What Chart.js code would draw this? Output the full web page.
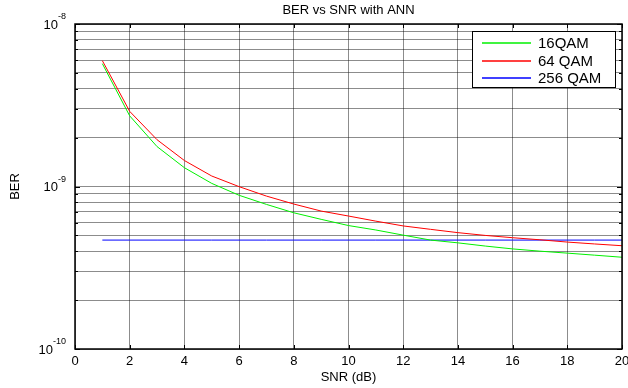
<!DOCTYPE html>
<html>
<head>
<meta charset="utf-8">
<script src="https://cdn.jsdelivr.net/npm/chart.js@4/dist/chart.umd.min.js"></script>
<style>
html,body{margin:0;padding:0;background:#fff;}
#wrap{width:628px;height:388px;position:relative;}
</style>
</head>
<body>
<div id="wrap"><canvas id="c" width="628" height="388"></canvas></div>
<script>
const snr = [1,2,3,4,5,6,7,8,9,10,11,12,13,14,15,16,17,18,19,20];
const ber16QAM = [5.7e-9,2.72e-9,1.76e-9,1.305e-9,1.045e-9,8.83e-10,7.76e-10,6.89e-10,6.28e-10,5.75e-10,5.4e-10,5.02e-10,4.68e-10,4.5e-10,4.3e-10,4.13e-10,4.0e-10,3.89e-10,3.78e-10,3.67e-10];
const ber64QAM = [5.95e-9,2.9e-9,1.94e-9,1.445e-9,1.16e-9,9.98e-10,8.73e-10,7.8e-10,7.06e-10,6.58e-10,6.12e-10,5.72e-10,5.45e-10,5.2e-10,5.0e-10,4.84e-10,4.7e-10,4.55e-10,4.43e-10,4.32e-10];
const ber256QAM = [4.68e-10,4.68e-10,4.68e-10,4.68e-10,4.68e-10,4.68e-10,4.68e-10,4.68e-10,4.68e-10,4.68e-10,4.68e-10,4.68e-10,4.68e-10,4.68e-10,4.68e-10,4.68e-10,4.68e-10,4.68e-10,4.68e-10,4.68e-10];
const seriesNames = ['16QAM','64 QAM','256 QAM'];
const xTickLabels = [0,2,4,6,8,10,12,14,16,18,20];
const yDecadeExponents = [-10,-9,-8];
const titleText = 'BER vs SNR with ANN';
const xTitle = 'SNR (dB)';
const yTitle = 'BER';

const FONT = "'Liberation Sans', Arial, sans-serif";
const seriesColors = ['rgb(0,240,0)','rgb(255,0,0)','rgb(0,0,255)'];

function pts(ys){ return snr.map((x,i)=>({x:x,y:ys[i]})); }

const yGridVals = [];
for (let e=-10;e<-8;e++){ for(let m=1;m<=9;m++){ yGridVals.push(m*Math.pow(10,e)); } }
yGridVals.push(1e-8);

const drawPlugin = {
  id:'matlabStyle',
  afterDraw(chart){
    const ctx = chart.ctx, a = chart.chartArea;
    const xs = chart.scales.x, ys = chart.scales.y;
    ctx.save();
    ctx.strokeStyle='#000'; ctx.lineWidth=1;
    ctx.beginPath();
    xTickLabels.forEach(v=>{
      const px = Math.round(xs.getPixelForValue(v))+0.5;
      ctx.moveTo(px,a.bottom); ctx.lineTo(px,a.bottom-4);
      ctx.moveTo(px,a.top); ctx.lineTo(px,a.top+4);
    });
    yGridVals.forEach(v=>{
      const py = Math.round(ys.getPixelForValue(v))+0.5;
      const len = (Math.abs(Math.log10(v)-Math.round(Math.log10(v)))<1e-9)?5:3;
      ctx.moveTo(a.left,py); ctx.lineTo(a.left+len,py);
      ctx.moveTo(a.right,py); ctx.lineTo(a.right-len,py);
    });
    ctx.stroke();
    ctx.lineWidth=1.5;
    ctx.strokeRect(a.left,a.top,a.right-a.left,a.bottom-a.top);

    ctx.fillStyle='#000';
    ctx.font='13px '+FONT;
    ctx.textAlign='center'; ctx.textBaseline='middle';
    xTickLabels.forEach(v=>{
      ctx.fillText(String(v), xs.getPixelForValue(v), a.bottom+12);
    });
    yDecadeExponents.forEach(e=>{
      const py = ys.getPixelForValue(Math.pow(10,e));
      const sup = String(e);
      ctx.font='9px '+FONT;
      const supW = ctx.measureText(sup).width;
      const right = a.left-9;
      ctx.textAlign='left'; ctx.textBaseline='middle';
      ctx.fillText(sup, right-supW, py-7);
      ctx.font='13px '+FONT;
      const baseW = ctx.measureText('10').width;
      ctx.fillText('10', right-supW-baseW, py+1);
    });
    ctx.font='13px '+FONT;
    ctx.textAlign='center'; ctx.textBaseline='middle';
    ctx.fillText(titleText, (a.left+a.right)/2, 10);
    ctx.fillText(xTitle, (a.left+a.right)/2, a.bottom+28);
    ctx.save();
    ctx.translate(15,(a.top+a.bottom)/2);
    ctx.rotate(-Math.PI/2);
    ctx.fillText(yTitle,0,0);
    ctx.restore();

    const lx=472, ly=31, lw=143, lh=56;
    ctx.fillStyle='#fff';
    ctx.fillRect(lx,ly,lw,lh);
    ctx.strokeStyle='#000'; ctx.lineWidth=1;
    ctx.strokeRect(lx+0.5,ly+0.5,lw,lh);
    ctx.font='15px '+FONT;
    ctx.textAlign='left'; ctx.textBaseline='middle';
    for (let i=0;i<seriesNames.length;i++){
      const ry = Math.round(ly+12+i*17.5);
      ctx.strokeStyle=seriesColors[i];
      ctx.lineWidth=1.6;
      ctx.beginPath(); ctx.moveTo(482,ry); ctx.lineTo(531,ry); ctx.stroke();
      ctx.fillStyle='#000';
      ctx.fillText(seriesNames[i],538,ry+0.5);
    }
    ctx.restore();
  }
};

new Chart(document.getElementById('c'),{
  type:'line',
  data:{
    datasets:[
      {label:seriesNames[0], data:pts(ber16QAM), borderColor:seriesColors[0]},
      {label:seriesNames[1], data:pts(ber64QAM), borderColor:seriesColors[1]},
      {label:seriesNames[2], data:pts(ber256QAM), borderColor:seriesColors[2]}
    ]
  },
  options:{
    responsive:false,
    animation:false,
    layout:{padding:{left:75,top:24,right:6,bottom:39}},
    elements:{line:{borderWidth:1,tension:0,fill:false},point:{radius:0}},
    plugins:{legend:{display:false},title:{display:false},tooltip:{enabled:false}},
    scales:{
      x:{type:'linear',min:0,max:20,
         afterBuildTicks(s){ s.ticks = xTickLabels.map(v=>({value:v})); },
         ticks:{display:false},
         grid:{color:'rgba(0,0,0,0.45)',lineWidth:1,drawTicks:false},
         border:{display:false}},
      y:{type:'logarithmic',min:1e-10,max:1e-8,
         afterBuildTicks(s){ s.ticks = yGridVals.map(v=>({value:v})); },
         ticks:{display:false},
         grid:{color:'rgba(0,0,0,0.45)',lineWidth:1,drawTicks:false},
         border:{display:false}}
    }
  },
  plugins:[drawPlugin]
});
</script>
</body>
</html>
